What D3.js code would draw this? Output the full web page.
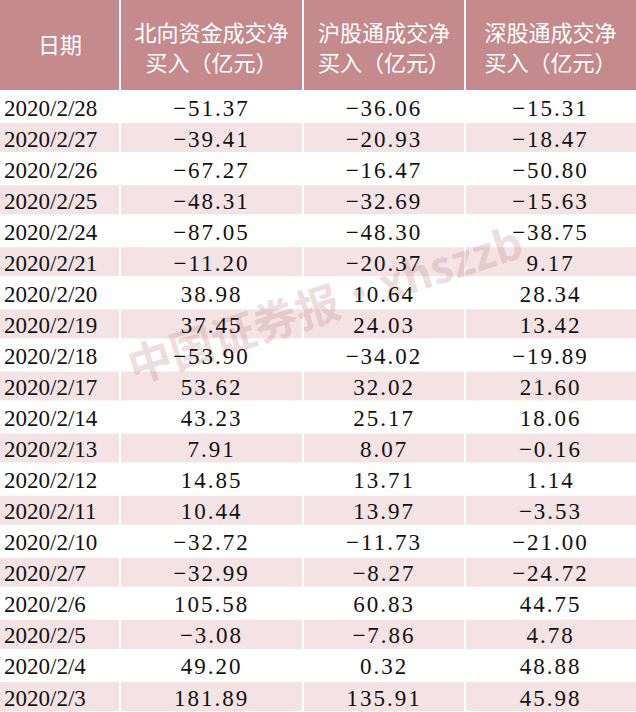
<!DOCTYPE html>
<html><head><meta charset="utf-8">
<script src="https://cdn.jsdelivr.net/npm/d3@7"></script>
<style>body{margin:0;background:#fff}</style>
</head><body><div id="chart"></div>
<script>
// table data
const headers = [["日期"], ["北向资金成交净", "买入（亿元）"], ["沪股通成交净", "买入（亿元）"], ["深股通成交净", "买入（亿元）"]];
const dates = ["2020/2/28","2020/2/27","2020/2/26","2020/2/25","2020/2/24","2020/2/21","2020/2/20","2020/2/19","2020/2/18","2020/2/17","2020/2/14","2020/2/13","2020/2/12","2020/2/11","2020/2/10","2020/2/7","2020/2/6","2020/2/5","2020/2/4","2020/2/3"];
const northbound = ["-51.37","-39.41","-67.27","-48.31","-87.05","-11.20","38.98","37.45","-53.90","53.62","43.23","7.91","14.85","10.44","-32.72","-32.99","105.58","-3.08","49.20","181.89"];
const shanghai = ["-36.06","-20.93","-16.47","-32.69","-48.30","-20.37","10.64","24.03","-34.02","32.02","25.17","8.07","13.71","13.97","-11.73","-8.27","60.83","-7.86","0.32","135.91"];
const shenzhen = ["-15.31","-18.47","-50.80","-15.63","-38.75","9.17","28.34","13.42","-19.89","21.60","18.06","-0.16","1.14","-3.53","-21.00","-24.72","44.75","4.78","48.88","45.98"];

const width = 636, height = 712, headH = 91;
const colEdges = [0, 120, 303, 465, 636];

const svg = d3.select("#chart").append("svg")
    .attr("width", width).attr("height", height);

const y = d3.scaleBand().domain(d3.range(dates.length)).range([headH, height]);

// header
svg.append("rect").attr("width", width).attr("height", headH).attr("fill", "#c48a8e");
headers.forEach((lines, c) => {
    const cx = (colEdges[c] + colEdges[c + 1]) / 2;
    lines.forEach((t, i) => {
        svg.append("text")
            .attr("x", cx)
            .attr("y", lines.length === 1 ? headH / 2 : 33 + i * 30)
            .attr("dy", "0.35em")
            .attr("text-anchor", "middle")
            .attr("fill", "#fff")
            .attr("font-family", "Noto Sans CJK SC")
            .attr("font-size", 22)
            .text(t);
    });
});

// row backgrounds
svg.append("g").selectAll("rect").data(dates).join("rect")
    .attr("x", 0).attr("width", width)
    .attr("y", (d, i) => y(i)).attr("height", y.bandwidth())
    .attr("fill", (d, i) => i % 2 ? "#f3e3e5" : "#fff");

// cell separators
svg.append("g").selectAll("line").data(colEdges.slice(1, -1)).join("line")
    .attr("x1", d => d).attr("x2", d => d).attr("y1", 0).attr("y2", height)
    .attr("stroke", "#fff").attr("stroke-width", 2);
svg.append("g").selectAll("line").data(d3.range(dates.length + 1)).join("line")
    .attr("x1", 0).attr("x2", width)
    .attr("y1", i => i < dates.length ? y(i) : height).attr("y2", i => i < dates.length ? y(i) : height)
    .attr("stroke", "#fff").attr("stroke-width", 2);

// watermark
svg.append("text")
    .attr("x", 330).attr("y", 320)
    .attr("transform", "rotate(-18 330 320)")
    .attr("text-anchor", "middle")
    .attr("fill", "#c48a8e").attr("fill-opacity", 0.3)
    .attr("font-family", "Noto Sans CJK SC").attr("font-weight", "bold")
    .attr("font-size", 44)
    .text("中国证券报·xhszzb");

// cell text
const columns = [dates, northbound, shanghai, shenzhen];
columns.forEach((vals, c) => {
    const cx = (colEdges[c] + colEdges[c + 1]) / 2;
    svg.append("g").selectAll("text").data(vals).join("text")
        .attr("x", c === 0 ? 4 : cx)
        .attr("y", (d, i) => y(i) + y.bandwidth() / 2 + 1)
        .attr("dy", "0.35em")
        .attr("text-anchor", c === 0 ? "start" : "middle")
        .attr("fill", "#111")
        .attr("font-family", "Liberation Serif, DejaVu Serif, serif")
        .attr("font-size", 23)
        .attr("letter-spacing", c === 0 ? 0 : 2)
        .text(d => d.replace("-", "−"));
});
</script></body></html>
